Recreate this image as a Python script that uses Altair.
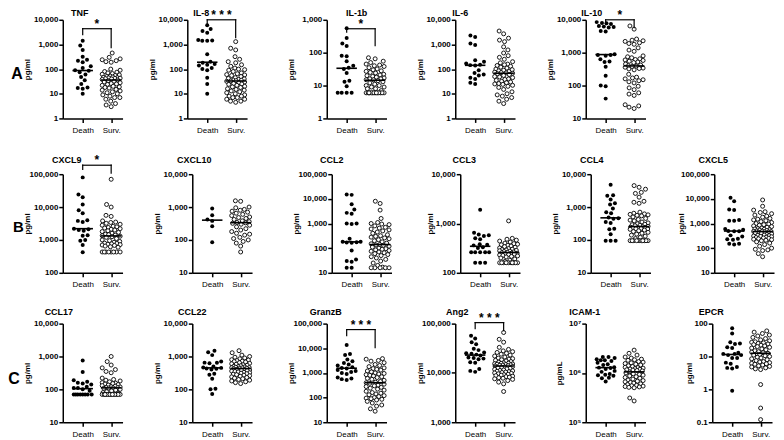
import altair as alt
import numpy as np
import pandas as pd

FONT = "Liberation Sans"
W, H = 60, 99
XMIN, XMAX = -0.7, 1.4
PXU = W / (XMAX - XMIN)
R_EXT = 62

# ---------------- data ----------------
tnf_death = [1400, 900, 600, 320, 240, 220, 190, 130, 110, 90, 85, 75, 60, 48, 35, 25, 18, 17, 16, 10]
tnf_surv = [450, 300, 260, 240, 220, 200, 190, 100, 90, 80, 75, 70, 66, 62, 58, 55, 52, 50, 48, 46, 45, 44,
            43, 42, 41, 40, 38, 36, 34, 32, 30, 28, 26, 25, 24, 22, 20, 19, 18, 17, 15, 14, 13, 12, 11, 10, 9,
            8, 7, 7, 6, 5, 4, 3.5, 3]
il8_death = [6000, 4200, 3500, 3000, 1500, 1450, 1400, 1400, 400, 200, 180, 160, 150, 140, 110, 100, 90, 45, 25, 10]
il8_surv = [1300, 700, 600, 320, 250, 200, 180, 150, 130, 110, 100, 95, 90, 80, 70, 65, 60, 58, 55, 50, 45, 42,
            40, 38, 36, 35, 34, 33, 32, 30, 28, 26, 25, 24, 22, 20, 19, 18, 16, 15, 14, 13, 12, 11, 10, 9, 8, 8,
            7, 7, 6, 6, 5, 5, 4.5]
il1b_death = [550, 280, 190, 160, 80, 78, 55, 40, 35, 32, 24, 14, 13, 9.5, 6, 6, 6, 6]
il1b_surv = [70, 65, 55, 50, 45, 42, 40, 38, 35, 32, 30, 28, 27, 25, 24, 22, 21, 20, 19, 18, 17, 16, 16, 15, 15,
             14, 13, 12, 11, 10, 10, 9, 9, 8, 8, 7, 6, 6, 6, 6, 6, 6, 6, 6, 6, 6, 6, 6, 6, 6]
il6_death = [2300, 2000, 1100, 950, 230, 200, 170, 150, 145, 140, 90, 70, 60, 55, 45, 40, 28, 25]
il6_surv = [3500, 2700, 1800, 1500, 1300, 800, 600, 450, 350, 300, 250, 200, 180, 160, 150, 140, 130, 120, 110,
            100, 95, 90, 85, 80, 75, 72, 70, 68, 65, 60, 55, 50, 48, 45, 40, 38, 35, 32, 30, 28, 26, 25, 24, 22,
            20, 18, 15, 12, 10, 9, 8, 7, 6, 5, 4]
il10_death = [8500, 8000, 7800, 7500, 6500, 6200, 6000, 5800, 4600, 4400, 900, 850, 850, 800, 630, 540, 520, 370,
              200, 100, 95, 40]
il10_surv = [6500, 5200, 2600, 2400, 2300, 2200, 2000, 1900, 1800, 1400, 1200, 1100, 800, 750, 700, 650, 620, 600,
             580, 550, 520, 500, 450, 420, 400, 390, 380, 360, 340, 330, 320, 300, 220, 180, 170, 160, 150, 140,
             130, 120, 95, 85, 75, 60, 55, 50, 26, 24, 22, 20]

cxcl9_death = [80000, 24000, 20000, 12000, 8000, 6500, 4000, 3800, 3500, 2200, 2100, 2000, 1900, 1400, 1350, 1000,
               950, 700, 420]
cxcl9_surv = [70000, 12000, 10000, 5600, 5200, 3800, 3500, 3400, 3200, 3000, 2800, 2600, 2500, 2400, 2300, 2200,
              2100, 2000, 1900, 1800, 1700, 1600, 1500, 1450, 1400, 1350, 1300, 1250, 1200, 1100, 1000, 950, 900,
              850, 800, 780, 760, 740, 720, 700, 680, 650, 620, 600, 430, 430, 430, 430, 430, 430, 430, 430]
cxcl10_death = [900, 560, 420, 380, 260, 85]
cxcl10_surv = [1550, 1500, 1000, 950, 850, 800, 750, 700, 650, 600, 550, 500, 480, 450, 420, 380, 360, 340, 330,
               320, 300, 280, 250, 220, 200, 180, 160, 150, 140, 120, 110, 100, 90, 80, 65, 43]
ccl2_death = [15000, 14500, 6000, 3700, 2700, 2500, 1000, 1000, 950, 240, 180, 180, 175, 170, 165, 80, 35, 30, 28,
              16, 16]
ccl2_surv = [8000, 6500, 3500, 1600, 1100, 1000, 950, 900, 800, 700, 650, 600, 550, 500, 450, 400, 350, 320, 300,
             280, 260, 240, 220, 200, 180, 160, 150, 140, 135, 130, 120, 110, 100, 95, 90, 85, 80, 75, 70, 65, 60,
             55, 50, 45, 40, 35, 30, 25, 20, 17, 16, 16, 16, 16, 16]
ccl3_death = [1900, 650, 600, 580, 560, 500, 480, 380, 370, 360, 330, 320, 260, 260, 260, 260, 260, 160, 160, 160]
ccl3_surv = [1130, 500, 480, 460, 440, 420, 400, 390, 380, 370, 360, 350, 340, 330, 320, 310, 300, 295, 290, 285,
             280, 275, 270, 265, 260, 255, 250, 250, 245, 240, 235, 230, 225, 220, 215, 210, 200, 190, 180, 170,
             160, 160, 160, 160, 160, 160, 160, 160, 160, 160]
ccl4_death = [4800, 2300, 2200, 1700, 1300, 1200, 900, 700, 650, 480, 460, 440, 350, 330, 220, 210, 150, 95, 95, 95]
ccl4_surv = [4500, 4000, 3500, 2800, 2600, 2000, 1500, 1400, 1300, 700, 650, 620, 600, 580, 560, 540, 500, 450,
             420, 400, 380, 350, 330, 310, 300, 290, 280, 270, 260, 250, 245, 240, 235, 230, 225, 220, 215, 210,
             200, 190, 180, 170, 160, 150, 140, 130, 120, 110, 95, 95, 95, 95, 95, 95, 95, 95, 95, 95]
cxcl5_death = [11000, 8000, 3700, 3500, 1400, 1300, 1300, 600, 560, 500, 490, 480, 330, 300, 240, 230, 220, 150,
               150, 140]
cxcl5_surv = [9000, 5000, 3500, 3000, 2800, 2500, 2200, 2000, 1800, 1600, 1500, 1400, 1300, 1200, 1100, 1000, 950,
              900, 850, 800, 750, 700, 650, 620, 600, 580, 560, 540, 520, 500, 490, 480, 470, 460, 450, 440, 420,
              400, 380, 360, 340, 330, 320, 310, 300, 290, 280, 270, 260, 250, 240, 230, 220, 210, 200, 180, 160,
              140, 120, 100, 90, 85, 80, 60, 45]

ccl17_death = [750, 340, 190, 170, 160, 150, 140, 120, 110, 110, 100, 90, 70, 70, 70, 70, 70, 70, 70, 70]
ccl17_surv = [1000, 700, 550, 450, 400, 350, 320, 220, 200, 190, 180, 170, 160, 155, 150, 145, 140, 135, 130, 125,
              120, 118, 115, 112, 110, 110, 108, 100, 95, 90, 85, 80, 75, 72, 70, 70, 70, 70, 70, 70, 70, 70, 70,
              70, 70, 70, 70, 70]
ccl22_death = [1500, 1350, 1100, 700, 650, 640, 620, 500, 460, 450, 430, 420, 400, 300, 280, 210, 105, 100, 72]
ccl22_surv = [1500, 1300, 1100, 1000, 950, 900, 850, 800, 780, 750, 720, 700, 680, 650, 620, 600, 580, 560, 540,
              520, 500, 490, 480, 470, 460, 455, 450, 440, 430, 420, 410, 400, 390, 380, 370, 360, 350, 340, 330,
              320, 310, 300, 290, 280, 270, 260, 250, 240, 230, 220, 210, 200, 190, 180, 170, 160, 150]
granzb_death = [13500, 5800, 5300, 3500, 3000, 2500, 2200, 2000, 1700, 1600, 1500, 1300, 1200, 1100, 1000, 900, 650,
                600, 560, 520]
granzb_surv = [3800, 3600, 3200, 3000, 2600, 2200, 2000, 1800, 1600, 1500, 1400, 1300, 1200, 1100, 1000, 950, 900,
               850, 800, 750, 700, 650, 600, 550, 500, 450, 420, 400, 380, 350, 320, 300, 280, 260, 240, 220, 200,
               180, 160, 150, 140, 130, 120, 110, 100, 95, 90, 85, 80, 70, 60, 50, 45, 35, 28]
ang2_death = [57000, 50000, 42000, 38000, 31000, 29000, 26000, 25000, 24500, 23500, 22500, 20500, 20000, 19500,
              19000, 16500, 16000, 12000, 11000, 10500]
ang2_surv = [66000, 48000, 42000, 33000, 30000, 28000, 27000, 26000, 25000, 24000, 23000, 22000, 21000, 20000,
             19500, 19000, 18500, 18000, 17500, 17000, 16500, 16000, 15800, 15600, 15400, 15200, 15000, 14800,
             14600, 14400, 14200, 14000, 13800, 13500, 13200, 13000, 12700, 12400, 12100, 11800, 11500, 11200,
             11000, 10800, 10600, 10400, 10200, 10000, 9800, 9600, 9400, 9200, 9000, 8800, 8600, 8400, 8200, 8000,
             7800, 7600, 7400, 7000, 6500, 6000, 4200]
icam_death = [2.1e6, 2.1e6, 2.0e6, 1.9e6, 1.8e6, 1.8e6, 1.75e6, 1.6e6, 1.5e6, 1.45e6, 1.3e6, 1.28e6, 1.26e6, 1.2e6,
              1.1e6, 1.05e6, 9.5e5, 9.2e5, 9e5, 8.8e5, 8e5, 7.8e5, 6.7e5]
icam_surv = [2.9e6, 2.5e6, 2.3e6, 2.1e6, 2.0e6, 1.9e6, 1.85e6, 1.8e6, 1.7e6, 1.65e6, 1.6e6, 1.55e6, 1.5e6, 1.45e6,
             1.4e6, 1.35e6, 1.3e6, 1.28e6, 1.25e6, 1.22e6, 1.2e6, 1.18e6, 1.16e6, 1.14e6, 1.12e6, 1.1e6, 1.05e6,
             1.0e6, 9.6e5, 9.3e5, 9e5, 8.7e5, 8.4e5, 8.1e5, 7.8e5, 7.5e5, 7.2e5, 7e5, 6.8e5, 6.6e5, 6.4e5, 6.2e5,
             6e5, 5.8e5, 5.6e5, 5.5e5, 5.4e5, 5.3e5, 5.2e5, 5.1e5, 5e5, 3.1e5, 2.7e5]
epcr_death = [72, 50, 27, 25, 24, 19, 18, 13, 12, 12, 11, 11, 9, 9, 6.5, 6, 4.8, 4.5, 4.3, 0.9]
epcr_surv = [60, 55, 50, 45, 42, 38, 35, 32, 30, 28, 27, 26, 25, 24, 23, 22, 21, 20, 19, 18, 17, 16, 15, 14, 13.5,
             13, 12.5, 12, 11.5, 11, 10.5, 10, 9.5, 9, 8.5, 8, 7.5, 7, 6.8, 6.5, 6.2, 6, 5.8, 5.5, 5.2, 5, 4.8,
             4.5, 4.2, 4, 1.4, 0.27, 0.12]

# significance brackets: (label, bar level, Death-leg end, Surv-leg end)
tnf_sig = ("*", 4350, 2480, 740)
il8_sig = ("* * *", 10000, 6280, 1880)
il1b_sig = ("*", 534, 420, 163)
il10_sig = ("*", 10000, 7060, 5720)
cxcl9_sig = ("*", 187500, 139000, 107000)
granzb_sig = ("* * *", 57300, 32800, 10700)
ang2_sig = ("* * *", 104700, 79300, 72200)

PANELS = {
    "TNF": dict(unit="pg/ml", lo=1, hi=1e4, death=tnf_death, surv=tnf_surv, sig=tnf_sig, tdx=17),
    "IL-8": dict(unit="pg/ml", lo=1, hi=1e4, death=il8_death, surv=il8_surv, sig=il8_sig, tdx=14),
    "IL-1b": dict(unit="pg/ml", lo=1, hi=1e3, death=il1b_death, surv=il1b_surv, sig=il1b_sig, tdx=30),
    "IL-6": dict(unit="pg/ml", lo=1, hi=1e4, death=il6_death, surv=il6_surv, sig=None, tdx=5),
    "IL-10": dict(unit="pg/ml", lo=10, hi=1e4, death=il10_death, surv=il10_surv, sig=il10_sig, tdx=6),
    "CXCL9": dict(unit="pg/ml", lo=100, hi=1e5, death=cxcl9_death, surv=cxcl9_surv, sig=cxcl9_sig, tdx=4),
    "CXCL10": dict(unit="pg/ml", lo=10, hi=1e4, death=cxcl10_death, surv=cxcl10_surv, sig=None, tdx=2),
    "CCL2": dict(unit="pg/ml", lo=10, hi=1e5, death=ccl2_death, surv=ccl2_surv, sig=None, tdx=0),
    "CCL3": dict(unit="pg/ml", lo=100, hi=1e4, death=ccl3_death, surv=ccl3_surv, sig=None, tdx=4, ttx=-26),
    "CCL4": dict(unit="pg/ml", lo=10, hi=1e4, death=ccl4_death, surv=ccl4_surv, sig=None, tdx=1),
    "CXCL5": dict(unit="pg/ml", lo=10, hi=1e5, death=cxcl5_death, surv=cxcl5_surv, sig=None, tdx=-1, ttx=-29),
    "CCL17": dict(unit="pg/ml", lo=10, hi=1e4, death=ccl17_death, surv=ccl17_surv, sig=None, tdx=-4),
    "CCL22": dict(unit="pg/ml", lo=10, hi=1e4, death=ccl22_death, surv=ccl22_surv, sig=None, tdx=0),
    "GranzB": dict(unit="pg/ml", lo=10, hi=1e5, death=granzb_death, surv=granzb_surv, sig=granzb_sig, tdx=-1),
    "Ang2": dict(unit="pg/ml", lo=1e3, hi=1e5, death=ang2_death, surv=ang2_surv, sig=ang2_sig, tdx=2),
    "ICAM-1": dict(unit="pg/mL", lo=1e5, hi=1e7, death=icam_death, surv=icam_surv, sig=None, tdx=-1, ttx=-22),
    "EPCR": dict(unit="pg/ml", lo=0.1, hi=100, death=epcr_death, surv=epcr_surv, sig=None, tdx=-1, ttx=-19),
}

ROWS = [
    dict(label="A", names=["TNF", "IL-8", "IL-1b", "IL-6", "IL-10"], axes=[63, 188, 328, 457, 588],
         top=11, bottom=131, tbase=-4, lx=-46, lbase=59.7, lfs=16),
    dict(label="B", names=["CXCL9", "CXCL10", "CCL2", "CCL3", "CCL4", "CXCL5"],
         axes=[58, 188, 328, 457, 588, 712], top=24, bottom=128, tbase=-11, lx=-44.5, lbase=58.4, lfs=15),
    dict(label="C", names=["CCL17", "CCL22", "GranzB", "Ang2", "ICAM-1", "EPCR"],
         axes=[63, 193, 328, 457, 588, 715], top=22, bottom=116, tbase=-9, lx=-49, lbase=60.7, lfs=16),
]


def swarm(vals, lo, hi, d, cap):
    v = np.asarray(vals, dtype=float)
    ys = (np.log10(v) - np.log10(lo)) / (np.log10(hi) - np.log10(lo)) * H
    order = np.argsort(v, kind="stable")
    pts = []
    out = np.zeros(len(v))
    for i in order:
        y = ys[i]
        cands = [0.0]
        for a, b in pts:
            dy = abs(b - y)
            if dy < d:
                dx = float(np.sqrt(d * d - dy * dy))
                cands.extend([a + dx, a - dx])
        cands.sort(key=lambda c: (round(abs(c), 6), c))
        chosen = None
        for c in cands:
            if abs(c) > cap + 1e-9:
                continue
            if all((c - a) ** 2 + (y - b) ** 2 >= d * d - 1e-6 for a, b in pts):
                chosen = c
                break
        if chosen is None:
            grid = np.linspace(-cap, cap, 45)
            chosen = float(max(grid, key=lambda c: (min((c - a) ** 2 + (y - b) ** 2 for a, b in pts), -abs(c))))
        out[i] = chosen
        pts.append((chosen, y))
    return out / PXU


ONE = pd.DataFrame({"a": [0]})


def make_panel(name, L, row, first):
    p = PANELS[name]
    lo, hi = p["lo"], p["hi"]
    e0, e1 = int(round(np.log10(lo))), int(round(np.log10(hi)))
    yvals = [10.0 ** k for k in range(e0, e1 + 1)]
    if name == "ICAM-1":
        lexpr = "datum.value >= 5000000 ? '10\u2077' : (datum.value >= 500000 ? '10\u2076' : '10\u2075')"
    else:
        lexpr = "format(datum.value, ',')"
    yaxis = alt.Axis(values=yvals, labelExpr=lexpr, title=p["unit"], titleFont=FONT, titleFontSize=8,
                     titleFontWeight="bold", titleColor="black", titlePadding=1, titleX=p.get("ttx", -31),
                     labelFont=FONT,
                     labelFontSize=8, labelFontWeight="bold", labelColor="black", labelPadding=1,
                     tickSize=4, tickWidth=1.5, tickColor="black", domainColor="black", domainWidth=1.5,
                     grid=False, labelOverlap=False)
    xaxis = alt.Axis(values=[0, 1], labelExpr="datum.value == 0 ? 'Death' : 'Surv.'", title=None,
                     labelFont=FONT, labelFontSize=8, labelColor="black", labelPadding=4, labelAngle=0,
                     tickSize=4, tickWidth=1.5, tickColor="black", domainColor="black", domainWidth=1.5,
                     grid=False, labelFlush=False, labelOverlap=False)
    X = alt.X("x:Q", scale=alt.Scale(domain=[XMIN, XMAX], nice=False, zero=False), axis=xaxis)
    Y = alt.Y("v:Q", scale=alt.Scale(type="log", domain=[lo, hi], nice=False), axis=yaxis)

    dvals, svals = p["death"], p["surv"]
    df_d = pd.DataFrame({"x": 0 + swarm(dvals, lo, hi, 5.0, 9), "v": dvals})
    df_s = pd.DataFrame({"x": 1 + swarm(svals, lo, hi, 5.3, 9), "v": svals})
    med = pd.DataFrame({"x": [-0.36, 0.64], "x2": [0.36, 1.36],
                        "v": [float(np.median(dvals)), float(np.median(svals))]})

    frame = alt.Chart(ONE).mark_rule(opacity=0).encode(
        x=alt.value(-L), x2=alt.value(R_EXT), y=alt.value(-row["top"]), y2=alt.value(row["bottom"]))
    surv = alt.Chart(df_s).mark_point(shape="circle", size=16, filled=True, fill="white", stroke="black",
                                      strokeWidth=0.9, opacity=1).encode(x=X, y=Y)
    death = alt.Chart(df_d).mark_circle(size=16, color="black", opacity=1).encode(x=X, y=Y)
    medl = alt.Chart(med).mark_rule(color="black", strokeWidth=1.6).encode(x=X, x2="x2:Q", y=Y)
    title = alt.Chart(ONE).mark_text(text=name, font=FONT, fontSize=9, fontWeight="bold", color="black",
                                     align="center", baseline="alphabetic").encode(
        x=alt.value(p["tdx"]), y=alt.value(row["tbase"]))
    layers = [frame, surv, death, medl, title]
    if p["sig"] is not None:
        lab, b, l, r = p["sig"]
        br = pd.DataFrame({"x": [0, 0, 1], "x2": [1, 0, 1], "v": [b, b, b], "v2": [b, l, r]})
        layers.append(alt.Chart(br).mark_rule(color="black", strokeWidth=1.2, strokeCap="square").encode(
            x=X, x2="x2:Q", y=Y, y2="v2:Q"))
        st = pd.DataFrame({"x": [0.5], "v": [b]})
        layers.append(alt.Chart(st).mark_text(text=lab, font=FONT, fontSize=12, fontWeight="bold",
                                              color="black", align="center", baseline="alphabetic",
                                              dy=-1).encode(x=X, y=Y))
    if first:
        layers.append(alt.Chart(ONE).mark_text(text=row["label"], font=FONT, fontSize=row["lfs"],
                                               fontWeight="bold", color="black", align="center",
                                               baseline="alphabetic").encode(
            x=alt.value(row["lx"]), y=alt.value(row["lbase"])))
    return alt.layer(*layers).properties(width=W, height=H)


rows = []
for row in ROWS:
    panels = []
    axes = row["axes"]
    for i, name in enumerate(row["names"]):
        L = axes[0] - 8 if i == 0 else axes[i] - axes[i - 1] - R_EXT
        panels.append(make_panel(name, L, row, i == 0))
    rows.append(alt.hconcat(*panels, spacing=0))

chart = alt.vconcat(*rows, spacing=0).properties(padding=0).configure_view(stroke=None)
chart.save("out.html", embed_options={"renderer": "svg", "actions": False})
